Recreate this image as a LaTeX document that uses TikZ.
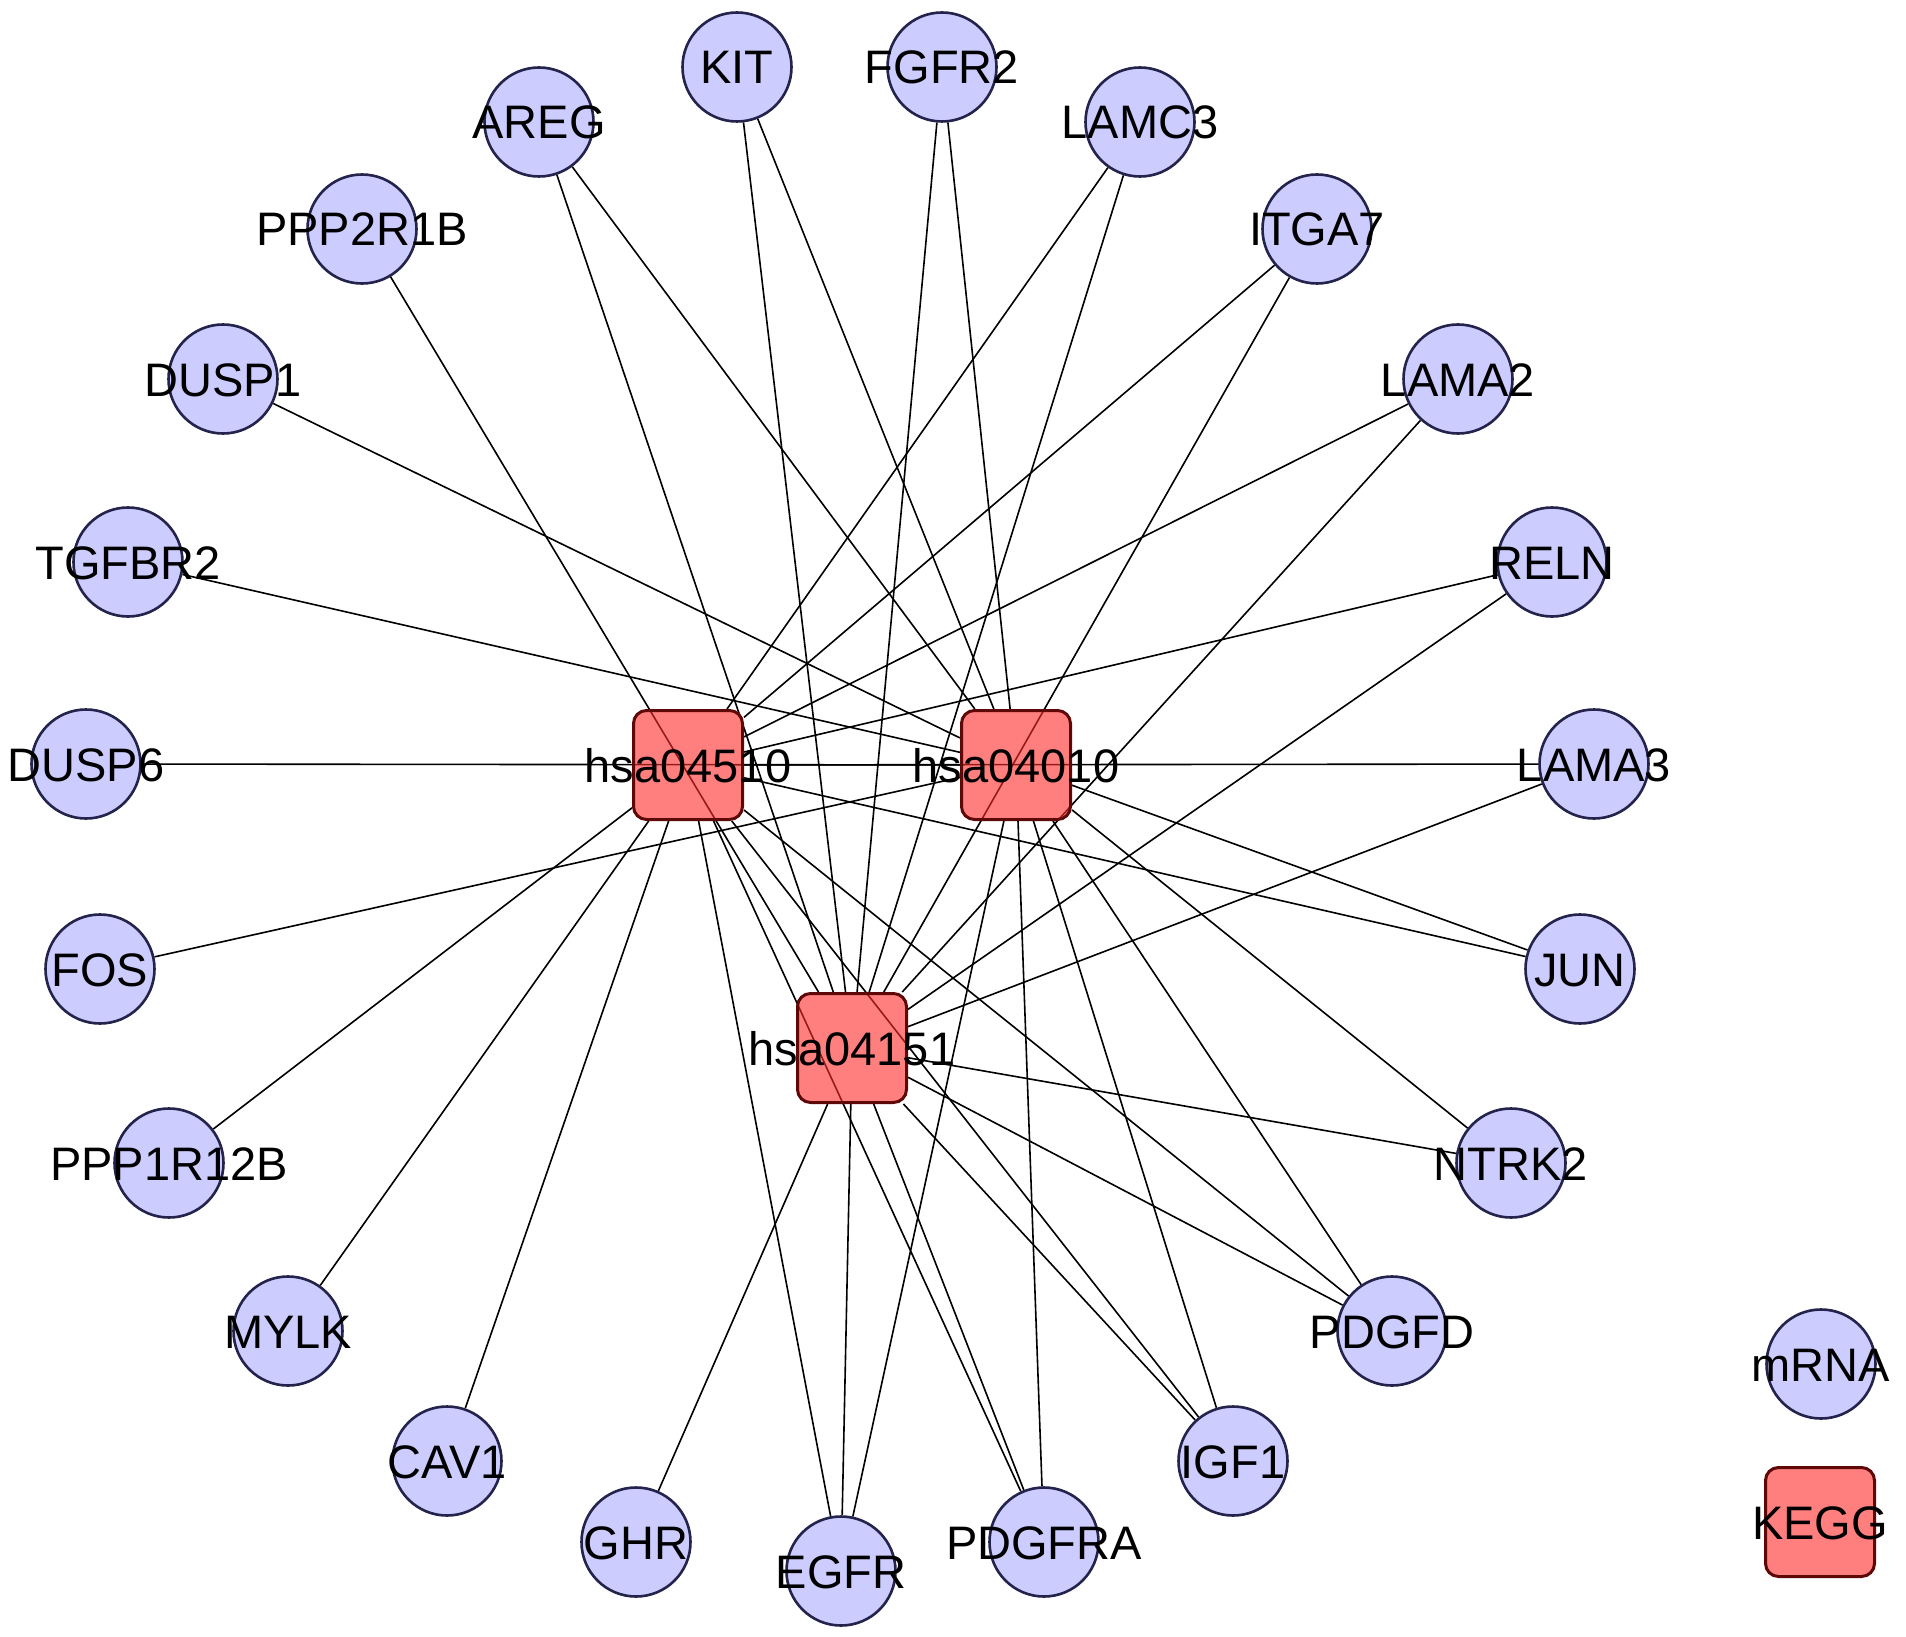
\documentclass[tikz,border=0pt]{standalone}
\usepackage{fontspec}
\setmainfont{Liberation Sans}
\usetikzlibrary{backgrounds}
\definecolor{genefill}{RGB}{204,204,255}
\definecolor{genedraw}{RGB}{35,35,75}
\definecolor{hubfill}{RGB}{255,43,43}
\definecolor{hubdraw}{RGB}{95,8,8}
\begin{document}
\begin{tikzpicture}[x=1pt,y=-1pt,
  gene/.style={circle,draw=genedraw,fill=genefill,line width=2.6pt,minimum size=109pt,inner sep=0pt},
  hub/.style={rectangle,rounded corners=13pt,draw=hubdraw,fill=hubfill,fill opacity=0.6,draw opacity=1,text opacity=1,line width=3pt,minimum size=109pt,inner sep=0pt},
  lab/.style={font=\fontsize{47}{47}\selectfont,text height=34pt,text depth=0pt,inner sep=0pt},
  link/.style={line width=1.6pt,black}]
\useasboundingbox (0,0) rectangle (1906,1637);
% gene nodes
\node[gene] (KIT) at (737,67) {};
\node[gene] (FGFR2) at (942,67) {};
\node[gene] (AREG) at (539,122) {};
\node[gene] (LAMC3) at (1140,122) {};
\node[gene] (PPP2R1B) at (362,229) {};
\node[gene] (ITGA7) at (1317,229) {};
\node[gene] (DUSP1) at (223,379) {};
\node[gene] (LAMA2) at (1458,379) {};
\node[gene] (TGFBR2) at (128,562) {};
\node[gene] (RELN) at (1552,562) {};
\node[gene] (DUSP6) at (86,764) {};
\node[gene] (LAMA3) at (1594,764) {};
\node[gene] (FOS) at (100,969) {};
\node[gene] (JUN) at (1580,969) {};
\node[gene] (PPP1R12B) at (169,1163) {};
\node[gene] (NTRK2) at (1511,1163) {};
\node[gene] (MYLK) at (288,1331) {};
\node[gene] (PDGFD) at (1392,1331) {};
\node[gene] (CAV1) at (447,1461) {};
\node[gene] (IGF1) at (1233,1461) {};
\node[gene] (GHR) at (636,1542) {};
\node[gene] (EGFR) at (841,1571) {};
\node[gene] (PDGFRA) at (1044,1542) {};
% hubs
\node[hub] (h04510) at (688,765) {};
\node[hub] (h04010) at (1016,765) {};
\node[hub] (h04151) at (852,1048) {};
% legend
\node[gene] (mRNA) at (1821,1364) {};
\node[hub] (KEGG) at (1820,1522) {};
% labels
\foreach \n in {KIT,FGFR2,AREG,LAMC3,PPP2R1B,ITGA7,DUSP1,LAMA2,TGFBR2,RELN,DUSP6,LAMA3,FOS,JUN,PPP1R12B,NTRK2,MYLK,PDGFD,CAV1,IGF1,GHR,EGFR,PDGFRA,mRNA,KEGG}
  \node[lab] (\n-l) at (\n) {\n};
\node[lab] (h04510-l) at (h04510) {hsa04510};
\node[lab] (h04010-l) at (h04010) {hsa04010};
\node[lab] (h04151-l) at (h04151) {hsa04151};
% edges
\begin{pgfonlayer}{background}
\fill[white] (0,0) rectangle (1906,1637);
\foreach \g in {LAMC3,ITGA7,LAMA2,RELN,LAMA3,JUN,PPP1R12B,MYLK,CAV1,EGFR,PDGFRA,IGF1,PDGFD}
  \draw[link] (\g) -- (h04510);
\foreach \g in {KIT,FGFR2,AREG,DUSP1,TGFBR2,DUSP6,FOS,JUN,NTRK2,PDGFD,IGF1,PDGFRA,EGFR}
  \draw[link] (\g) -- (h04010);
\foreach \g in {KIT,FGFR2,AREG,LAMC3,PPP2R1B,ITGA7,LAMA2,RELN,LAMA3,NTRK2,PDGFD,IGF1,PDGFRA,EGFR,GHR}
  \draw[link] (\g) -- (h04151);
\end{pgfonlayer}
\end{tikzpicture}
\end{document}
